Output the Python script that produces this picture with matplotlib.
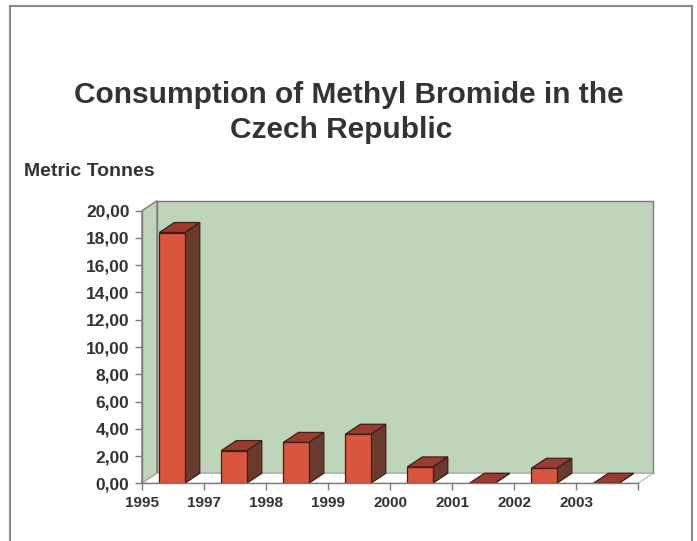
import numpy as np
import matplotlib.pyplot as plt
from matplotlib.patches import Polygon
from matplotlib.lines import Line2D

years = ['1995', '1997', '1998', '1999', '2000', '2001', '2002', '2003']
tonnes = [18.4, 2.4, 3.0, 3.6, 1.2, 0.0, 1.1, 0.0]
yticks = np.arange(0, 21, 2)

W, H = 697, 541
fig = plt.figure(figsize=(W / 100, H / 100), dpi=100)
fig.patch.set_facecolor('white')

# plot area in pixels: x 142..638, y 210.7..483.3
x0, x1, ytop, ybot = 142, 638, 210.7, 483.3
ax = fig.add_axes([x0 / W, (H - ybot) / H, (x1 - x0) / W, (ybot - ytop) / H])
n = len(years)
ax.set_xlim(0, n)
ax.set_ylim(0, 20)
ax.patch.set_alpha(0)

# 3d depth offset (15px right, 10px up) in data units
dx = 15 / ((x1 - x0) / n)
dy = 10 / ((ybot - ytop) / 20)

green = '#bed5ba'
grey = '#7a7a7a'
# back wall, side wall, floor
ax.add_patch(Polygon([(dx, dy), (n + dx, dy), (n + dx, 20 + dy), (dx, 20 + dy)],
                     closed=True, fc=green, ec=grey, lw=1.0, clip_on=False, zorder=1))
ax.add_patch(Polygon([(0, 0), (dx, dy), (dx, 20 + dy), (0, 20)],
                     closed=True, fc=green, ec=grey, lw=1.0, clip_on=False, zorder=1))
ax.add_patch(Polygon([(0, 0), (n, 0), (n + dx, dy), (dx, dy)],
                     closed=True, fc='white', ec='#b0b0b0', lw=0.8, clip_on=False, zorder=1))

# bars: front faces through ax.bar, then side and top faces
front = '#d9553d'
side = '#6b3a2f'
top = '#9a3b2e'
edge = '#3b201a'
w = 0.41
xs = np.arange(n) + 0.28
ax.bar(xs, tonnes, width=w, align='edge', color=front, edgecolor=edge, lw=0.9, zorder=3)
for x, v in zip(xs, tonnes):
    ax.add_patch(Polygon([(x + w, 0), (x + w + dx, dy), (x + w + dx, v + dy), (x + w, v)],
                         closed=True, fc=side, ec=edge, lw=0.9, zorder=2, clip_on=False))
    ax.add_patch(Polygon([(x, v), (x + w, v), (x + w + dx, v + dy), (x + dx, v + dy)],
                         closed=True, fc=top, ec=edge, lw=0.9, zorder=2, clip_on=False))

for s in ['top', 'right']:
    ax.spines[s].set_visible(False)
for s in ['left', 'bottom']:
    ax.spines[s].set_color(grey)
    ax.spines[s].set_linewidth(1.0)
    ax.spines[s].set_zorder(4)

ax.set_yticks(yticks)
ax.set_yticklabels(['%d,00' % t for t in yticks])
ax.set_xticks(np.arange(n + 1))
ax.set_xticklabels(years + [''])
ax.tick_params(axis='both', direction='out', length=5, width=1, color=grey,
               labelcolor='#333333')
ax.tick_params(axis='y', pad=4, labelsize=12.5)
ax.tick_params(axis='x', pad=4, labelsize=11)
for lab in ax.get_xticklabels() + ax.get_yticklabels():
    lab.set_fontweight('bold')
    lab.set_family('Liberation Sans')

fig.text(349 / W, 1 - 95 / H, 'Consumption of Methyl Bromide in the', ha='center', va='center',
         fontsize=21.5, fontweight='bold', family='Liberation Sans', color='#333333')
fig.text(341 / W, 1 - 130 / H, 'Czech Republic', ha='center', va='center',
         fontsize=21.5, fontweight='bold', family='Liberation Sans', color='#333333')
fig.text(24 / W, 1 - 172 / H, 'Metric Tonnes', ha='left', va='center',
         fontsize=14, fontweight='bold', family='Liberation Sans', color='#333333')

# page frame
fc = '#8a8a8a'
fig.add_artist(Line2D([10 / W, 10 / W], [0, 1 - 6 / H], color=fc, lw=1.5))
fig.add_artist(Line2D([10 / W, 692 / W], [1 - 6 / H, 1 - 6 / H], color=fc, lw=1.5))
fig.add_artist(Line2D([692 / W, 692 / W], [0, 1 - 6 / H], color=fc, lw=1.5))

fig.savefig('out.png', dpi=100)
